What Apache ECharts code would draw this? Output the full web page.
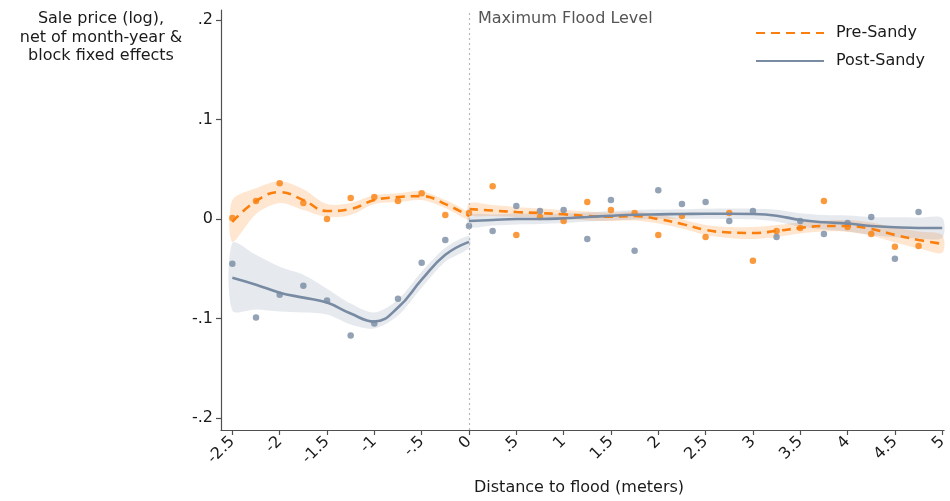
<!DOCTYPE html>
<html>
<head>
<meta charset="utf-8">
<script src="https://cdn.jsdelivr.net/npm/echarts@6/dist/echarts.min.js"></script>
<style>
  html, body { margin: 0; padding: 0; background: #fff; }
  #chart { width: 950px; height: 501px; }
</style>
</head>
<body>
<div id="chart"></div>
<script>
// Binned means of sale price residuals by distance to the flood line (meters)
const binDistance = [-2.5, -2.25, -2, -1.75, -1.5, -1.25, -1, -0.75, -0.5, -0.25,
  0, 0.25, 0.5, 0.75, 1, 1.25, 1.5, 1.75, 2, 2.25,
  2.5, 2.75, 3, 3.25, 3.5, 3.75, 4, 4.25, 4.5, 4.75];
const preSandyBins = [0.001, 0.018, 0.036, 0.016, 0.000, 0.021, 0.022, 0.018, 0.026, 0.004,
  0.006, 0.033, -0.016, 0.002, -0.002, 0.017, 0.009, 0.006, -0.016, 0.003,
  -0.018, 0.006, -0.042, -0.012, -0.009, 0.018, -0.008, -0.015, -0.028, -0.027];
const postSandyBins = [-0.045, -0.099, -0.076, -0.067, -0.082, -0.117, -0.105, -0.080, -0.044, -0.021,
  -0.007, -0.012, 0.013, 0.008, 0.009, -0.020, 0.019, -0.032, 0.029, 0.015,
  0.017, -0.002, 0.008, -0.018, -0.002, -0.015, -0.004, 0.002, -0.040, 0.007];

// Local polynomial fits, estimated separately on each side of the flood line
const fitXLeft = [-2.5, -2.25, -2, -1.75, -1.5, -1.25, -1, -0.75, -0.5, -0.25, 0];
const preFitLeft = [-0.003, 0.018, 0.027, 0.019, 0.008, 0.010, 0.019, 0.022, 0.023, 0.015, 0.003];
const preLoLeft = [-0.023, 0.005, 0.016, 0.009, 0.002, 0.004, 0.015, 0.017, 0.019, 0.011, -0.001];
const preHiLeft = [0.019, 0.031, 0.038, 0.030, 0.015, 0.016, 0.024, 0.026, 0.028, 0.019, 0.006];
const postFitLeft = [-0.059, -0.066, -0.074, -0.079, -0.084, -0.095, -0.103, -0.089, -0.061, -0.036, -0.023];
const postLoLeft = [-0.092, -0.091, -0.093, -0.094, -0.096, -0.106, -0.110, -0.097, -0.069, -0.043, -0.029];
const postHiLeft = [-0.024, -0.036, -0.048, -0.056, -0.070, -0.085, -0.094, -0.081, -0.053, -0.029, -0.017];

const fitXRight = [0, 0.25, 0.5, 0.75, 1, 1.25, 1.5, 1.75, 2, 2.25, 2.5,
  2.75, 3, 3.25, 3.5, 3.75, 4, 4.25, 4.5, 4.75, 5];
const preFitRight = [0.010, 0.0085, 0.007, 0.006, 0.0047, 0.003, 0.0023, 0.003, 0.000, -0.005, -0.011,
  -0.0135, -0.014, -0.012, -0.009, -0.007, -0.007, -0.010, -0.016, -0.021, -0.025];
const preLoRight = [0.004, 0.003, 0.002, 0.0015, 0.0005, -0.0015, -0.002, -0.0015, -0.0045, -0.0095, -0.016,
  -0.019, -0.020, -0.018, -0.0145, -0.0125, -0.013, -0.0165, -0.0235, -0.0295, -0.034];
const preHiRight = [0.016, 0.014, 0.012, 0.0105, 0.009, 0.0075, 0.0065, 0.0075, 0.0045, -0.0005, -0.006,
  -0.008, -0.008, -0.006, -0.0035, -0.0015, -0.001, -0.0035, -0.0085, -0.0125, -0.016];
const postFitRight = [-0.002, -0.001, 0.000, 0.000, 0.0007, 0.002, 0.0033, 0.0043, 0.0047, 0.005, 0.0053,
  0.0053, 0.005, 0.0033, -0.001, -0.0033, -0.0045, -0.007, -0.0083, -0.009, -0.009];
const postLoRight = [-0.008, -0.0065, -0.0055, -0.005, -0.004, -0.0025, -0.0015, -0.0005, 0.000, 0.0002, 0.0003,
  0.0001, -0.0003, -0.0027, -0.0077, -0.0106, -0.0125, -0.016, -0.0183, -0.0195, -0.019];
const postHiRight = [0.004, 0.0045, 0.0055, 0.005, 0.0055, 0.0065, 0.008, 0.009, 0.0095, 0.0098, 0.0103,
  0.0105, 0.0103, 0.0093, 0.0057, 0.004, 0.0035, 0.002, 0.0017, 0.0015, 0.001];

// Axis ticks and labels
const xTicks = [-2.5, -2, -1.5, -1, -0.5, 0, 0.5, 1, 1.5, 2, 2.5, 3, 3.5, 4, 4.5, 5];
const xTickLabels = ['-2.5', '-2', '-1.5', '-1', '-.5', '0', '.5', '1', '1.5', '2', '2.5', '3', '3.5', '4', '4.5', '5'];
const yTicks = [-0.2, -0.1, 0, 0.1, 0.2];
const yTickLabels = ['-.2', '-.1', '0', '.1', '.2'];

const ORANGE = '#fa7f0c';
const SLATE = '#788ba3';
const FONT = 'DejaVu Sans';

function pairs(xs, ys) { return xs.map((x, i) => [x, ys[i]]); }

function labelFor(values, labels) {
  return function (v) {
    const i = values.findIndex(t => Math.abs(t - v) < 1e-9);
    return i >= 0 ? labels[i] : '';
  };
}

// Confidence band polygon drawn from the axes' coordinate system
function band(name, xs, lo, hi, color) {
  return {
    type: 'custom',
    name: name,
    z: 1,
    silent: true,
    data: [0],
    renderItem: function (params, api) {
      const pts = [];
      for (let i = 0; i < xs.length; i++) pts.push(api.coord([xs[i], hi[i]]));
      for (let i = xs.length - 1; i >= 0; i--) pts.push(api.coord([xs[i], lo[i]]));
      return {
        type: 'polygon',
        shape: { points: pts, smooth: 0.3 },
        style: { fill: color, stroke: null }
      };
    }
  };
}

function fitLine(name, xs, ys, color, type, extra) {
  return Object.assign({
    type: 'line',
    name: name,
    data: pairs(xs, ys),
    smooth: 0.45,
    showSymbol: false,
    symbol: 'none',
    legendIcon: 'none',
    z: 4,
    lineStyle: { color: color, width: 2.6, type: type, dashOffset: 0 },
    itemStyle: { color: color }
  }, extra || {});
}

const chart = echarts.init(document.getElementById('chart'), null, { renderer: 'canvas' });

chart.setOption({
  animation: false,
  backgroundColor: '#ffffff',
  textStyle: { fontFamily: FONT },
  grid: { left: 221, right: 3, top: 10, bottom: 71, containLabel: false },
  xAxis: {
    type: 'value',
    min: -2.62,
    max: 5.02,
    splitLine: { show: false },
    axisLine: { show: true, onZero: false, lineStyle: { color: '#505050', width: 1.2 } },
    axisTick: { show: true, length: 5, customValues: xTicks, lineStyle: { color: '#505050', width: 1.2 } },
    axisLabel: {
      customValues: xTicks,
      formatter: labelFor(xTicks, xTickLabels),
      rotate: 45,
      margin: 9,
      color: '#1a1a1a',
      fontSize: 16,
      fontFamily: FONT
    }
  },
  yAxis: {
    type: 'value',
    min: -0.212,
    max: 0.21,
    splitLine: { show: false },
    axisLine: { show: true, onZero: false, lineStyle: { color: '#505050', width: 1.2 } },
    axisTick: { show: true, length: 5, customValues: yTicks, lineStyle: { color: '#505050', width: 1.2 } },
    axisLabel: {
      customValues: yTicks,
      formatter: labelFor(yTicks, yTickLabels),
      margin: 8,
      color: '#1a1a1a',
      fontSize: 16,
      fontFamily: FONT
    }
  },
  legend: {
    data: ['Pre-Sandy', 'Post-Sandy'],
    orient: 'vertical',
    left: 755,
    top: 25,
    padding: 0,
    itemWidth: 68,
    itemHeight: 14,
    itemGap: 12,
    selectedMode: false,
    itemStyle: { opacity: 0 },
    textStyle: { fontSize: 16, color: '#1a1a1a', fontFamily: FONT, padding: [0, 0, 0, 7] }
  },
  graphic: [
    {
      type: 'text', left: 1, top: 10, z: 10,
      style: {
        text: 'Sale price (log),\nnet of month-year &\nblock fixed effects',
        width: 200, align: 'center', x: 100,
        textAlign: 'center', fontSize: 16, lineHeight: 18.5,
        fontFamily: FONT, fill: '#1a1a1a'
      }
    },
    {
      type: 'text', left: 478, top: 11, z: 10,
      style: { text: 'Maximum Flood Level', fontSize: 16, fontFamily: FONT, fill: '#555555' }
    },
    {
      type: 'text', left: 474, top: 480, z: 10,
      style: { text: 'Distance to flood (meters)', fontSize: 16, fontFamily: FONT, fill: '#1a1a1a' }
    }
  ],
  series: [
    band('Pre-Sandy band L', fitXLeft, preLoLeft, preHiLeft, 'rgba(255,140,40,0.22)'),
    band('Pre-Sandy band R', fitXRight, preLoRight, preHiRight, 'rgba(255,140,40,0.22)'),
    band('Post-Sandy band L', fitXLeft, postLoLeft, postHiLeft, 'rgba(120,140,165,0.19)'),
    band('Post-Sandy band R', fitXRight, postLoRight, postHiRight, 'rgba(120,140,165,0.19)'),
    {
      type: 'scatter', name: 'Pre-Sandy bins', z: 3,
      data: pairs(binDistance, preSandyBins),
      symbol: 'circle', symbolSize: 6.5,
      itemStyle: { color: ORANGE }
    },
    {
      type: 'scatter', name: 'Post-Sandy bins', z: 3,
      data: pairs(binDistance, postSandyBins),
      symbol: 'circle', symbolSize: 6.5,
      itemStyle: { color: SLATE }
    },
    fitLine('Pre-Sandy', fitXLeft, preFitLeft, ORANGE, [9, 6], {
      markLine: {
        silent: true,
        symbol: 'none',
        label: { show: false },
        lineStyle: { color: '#b8b8b8', type: [2, 3], width: 1.2 },
        data: [{ xAxis: 0 }]
      }
    }),
    fitLine('Pre-Sandy', fitXRight, preFitRight, ORANGE, [9, 6]),
    fitLine('Post-Sandy', fitXLeft, postFitLeft, SLATE, 'solid'),
    fitLine('Post-Sandy', fitXRight, postFitRight, SLATE, 'solid')
  ]
});
</script>
</body>
</html>
